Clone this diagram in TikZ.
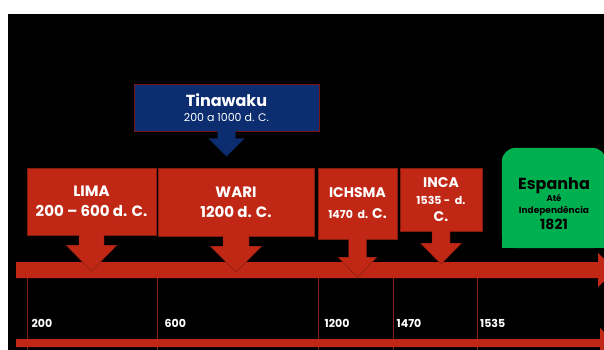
\documentclass[tikz,border=0pt]{standalone}
\usepackage{fontspec}
\setmainfont{Poppins}
\usetikzlibrary{calc}
\definecolor{eraRed}{RGB}{192,39,21}
\definecolor{tickRed}{RGB}{140,28,16}
\definecolor{tinaBlue}{RGB}{12,45,112}
\definecolor{tinaEdge}{RGB}{120,20,25}
\definecolor{espGreen}{RGB}{0,176,80}
\tikzset{
  redbox/.style={fill=eraRed, draw=eraRed!70!black, line width=0.4pt, text=white,
    font=\bfseries\fontsize{15}{20}\selectfont, align=center, inner sep=0pt},
  yearlabel/.style={text=white, font=\bfseries\fontsize{11}{13}\selectfont, anchor=west, inner sep=0pt},
  tickline/.style={draw=tickRed, line width=0.7pt},
}
\newcommand{\blockarrow}[6]{%
  \filldraw[fill=#2, draw=#2!65!black, line width=0.4pt]
    ($(#1.south)+(-#3,-0.5)$) -- ($(#1.south)+(-#3,#4)$) -- ($(#1.south)+(-#5,#4)$)
    -- ($(#1.south)+(0,#4+#6)$) -- ($(#1.south)+(#5,#4)$) -- ($(#1.south)+(#3,#4)$)
    -- ($(#1.south)+(#3,-0.5)$);
}

\begin{document}
\begin{tikzpicture}[x=1pt,y=-1pt]
  \useasboundingbox (0,0) rectangle (604,350);
  \fill[black] (8,14) rectangle (604,350);

  \foreach \t in {27.5,157.5,318.5,393,477}
    \draw[tickline] (\t,270) -- (\t,352);

  \fill[eraRed] (16,262) -- (598,262) -- (598,253) -- (616,270) -- (598,287) -- (598,278) -- (16,278) -- cycle;
  \fill[eraRed] (16,339) -- (600,339) -- (600,328) -- (616,343) -- (600,358) -- (600,347) -- (16,347) -- cycle;

  \node[redbox, minimum width=129, minimum height=67] (lima) at (91.5,201.5) {LIMA\\200 -- 600 d. C.};
  \node[redbox, minimum width=156, minimum height=68] (wari) at (236,202) {WARI\\1200 d. C.};
  \node[redbox, font=\bfseries\fontsize{14}{21}\selectfont, minimum width=79, minimum height=71] (ichsma) at (357.5,203.5)
    {ICHSMA\\{\fontsize{11}{13}\selectfont 1470\ \ d.} C.};
  \node[redbox, font=\bfseries\fontsize{14}{17}\selectfont, minimum width=82, minimum height=63] (inca) at (441,199.5)
    {INCA\\{\fontsize{11}{19}\selectfont 1535 -\ \ d.}\\C.};
  \node[fill=tinaBlue, draw=tinaEdge, line width=0.8pt, text=white, align=center, inner sep=0pt,
    minimum width=185, minimum height=47] (tina) at (226.5,107.5)
    {\bfseries\fontsize{16}{17}\selectfont Tinawaku\\[3pt]\fontsize{11}{17}\selectfont 200 a 1000 d. C.};

  \blockarrow{lima}{eraRed}{12.5}{10}{25.5}{26}
  \blockarrow{wari}{eraRed}{13}{10}{26}{26}
  \blockarrow{ichsma}{eraRed}{9}{18}{19.5}{20}
  \blockarrow{inca}{eraRed}{9}{12}{20.5}{21}
  \blockarrow{tina}{tinaBlue}{9}{7}{18}{18}

  \node[minimum width=104, minimum height=100, inner sep=0pt] (esp) at (554,198) {};
  \fill[espGreen, rounded corners=14pt] (esp.south west) rectangle (esp.north east);
  \fill[espGreen] (esp.south west) rectangle ($(esp.east)+(0,10)$);
  \node[align=center, inner sep=0pt, font=\bfseries] (espText) at (554,204)
    {\fontsize{16}{16}\selectfont Espanha\\\fontsize{8.5}{15}\selectfont Até\\
     \fontsize{9}{12}\selectfont Independência\\[2pt]\fontsize{14}{16}\selectfont 1821};

  \node[yearlabel] (y200) at (31.5,323) {200};
  \node[yearlabel] (y600) at (164.5,323) {600};
  \node[yearlabel] (y1200) at (324.5,323) {1200};
  \node[yearlabel] (y1470) at (396.5,323) {1470};
  \node[yearlabel] (y1535) at (480,323) {1535};
\end{tikzpicture}
\end{document}
